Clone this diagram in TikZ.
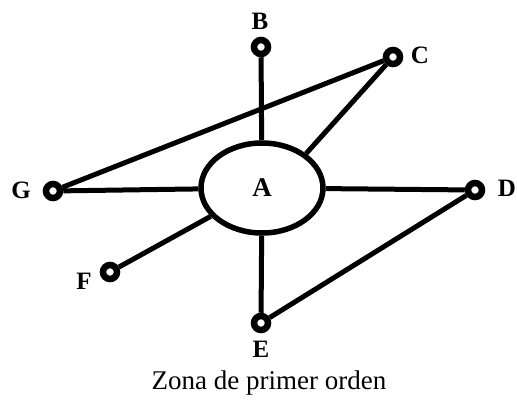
\documentclass[tikz,border=0pt]{standalone}
\usepackage{fontspec}
\setmainfont{Liberation Serif}
\usetikzlibrary{shapes.geometric}
\begin{document}
\begin{tikzpicture}[x=1pt,y=-1pt,
	wire/.style={line width=5pt},
	terminal/.style={circle, draw, line width=6.5pt, minimum size=14pt, inner sep=0pt},
	zone/.style={ellipse, draw, line width=5.5pt, minimum width=122pt, minimum height=90pt, inner sep=0pt},
	letter/.style={font=\fontsize{25}{25}\selectfont\bfseries}]
		\useasboundingbox (0,0) rectangle (517,402);
		%draw zone and terminals
		\node[zone] (A) at (262,188) {};
		\node[letter, font=\fontsize{27}{27}\selectfont\bfseries] (lA) at (262,188) {A};
		\node[terminal] (B) at (261,47) {};
		\node[terminal] (C) at (393,57) {};
		\node[terminal] (D) at (475,190) {};
		\node[terminal] (E) at (261,323) {};
		\node[terminal] (F) at (110,272) {};
		\node[terminal] (G) at (53,191) {};
		%draw connections
		\draw[wire] (B) -- (A);
		\draw[wire] (C) -- (A.38);
		\draw[wire] (D) -- (A);
		\draw[wire] (E) -- (A);
		\draw[wire] (F) -- (A);
		\draw[wire] (G) -- (A);
		\draw[wire] (C) -- (G);
		\draw[wire] (D) -- (E);
		%draw labels
		\node[letter] (lB) at (260,21) {B};
		\node[letter] (lC) at (420,55) {C};
		\node[letter] (lD) at (507,188) {D};
		\node[letter] (lE) at (261,349) {E};
		\node[letter] (lF) at (84,281) {F};
		\node[letter] (lG) at (21,190) {G};
		\node[font=\fontsize{27}{27}\selectfont] (cap) at (269,383) {Zona de primer orden};
\end{tikzpicture}
\end{document}
